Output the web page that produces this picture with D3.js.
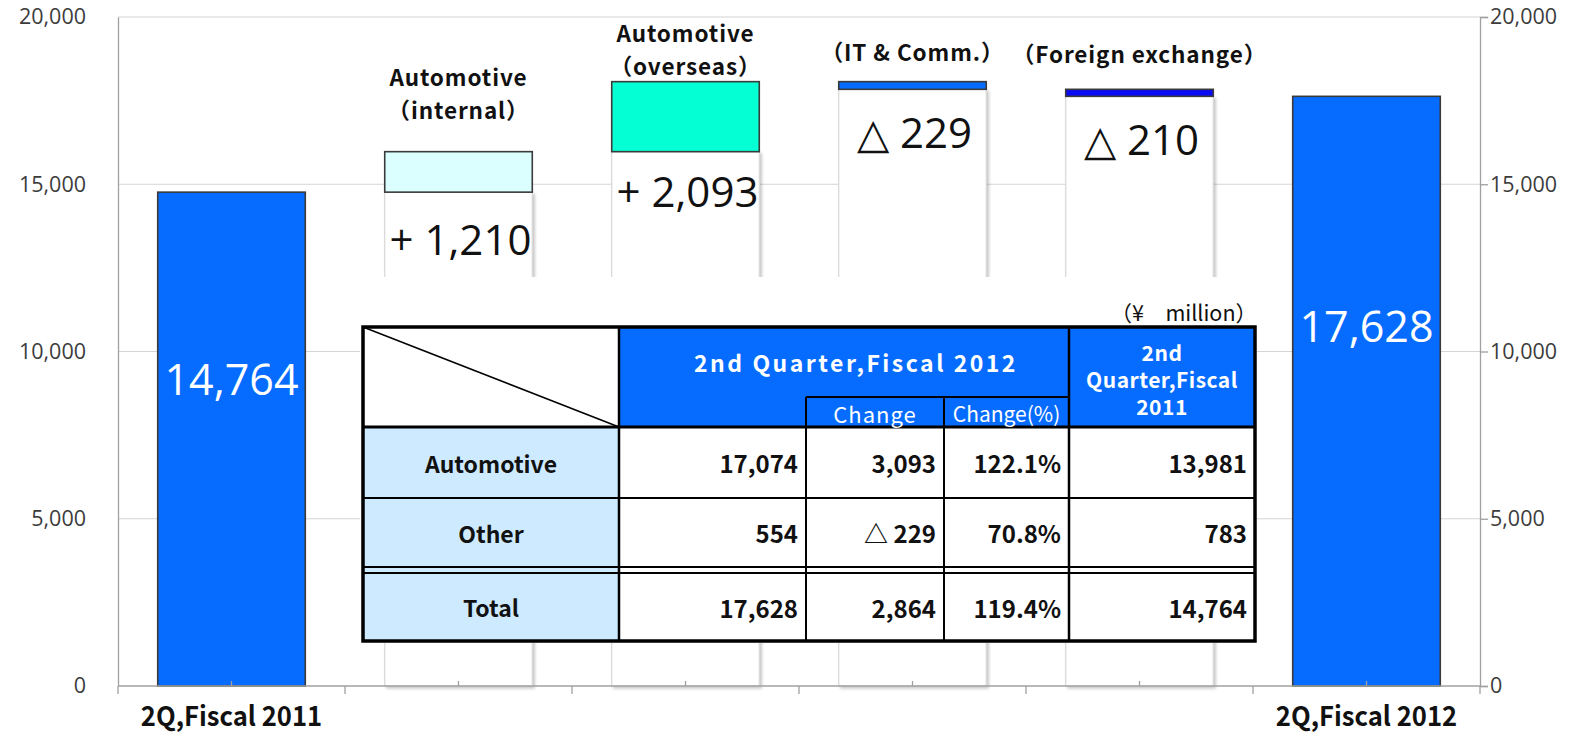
<!DOCTYPE html>
<html>
<head>
<meta charset="utf-8">
<script src="https://cdn.jsdelivr.net/npm/d3@7"></script>
<style>
  body { margin: 0; background: #fff; }
  svg { display: block; }
</style>
</head>
<body>
<svg id="chart" width="1591" height="734"></svg>
<script>
// chart values
const categories = ["2Q,Fiscal 2011", "Automotive (internal)", "Automotive (overseas)", "IT & Comm.", "Foreign exchange", "2Q,Fiscal 2012"];
const axisLabels = ["2Q,Fiscal 2011", "", "", "", "", "2Q,Fiscal 2012"];
const stepLabels = [[], ["Automotive", "（internal）"], ["Automotive", "（overseas）"], ["（IT & Comm.）"], ["（Foreign exchange）"], []];
const amounts = [14764, 1210, 2093, -229, -210, 17628];
const isTotal = [true, false, false, false, false, true];
const yTicks = [0, 5000, 10000, 15000, 20000];

// table values
const tableRows = ["Automotive", "Other", "Total"];
const q2fy2012 = [17074, 554, 17628];
const change = [3093, -229, 2864];
const changePct = [122.1, 70.8, 119.4];
const q2fy2011 = [13981, 783, 14764];
const unitLabel = "（¥　million）";

const fmt = d3.format(",");
const signed = v => v < 0 ? "△ " + fmt(-v) : "+ " + fmt(v);

// waterfall pieces
let running = 0;
const pieces = amounts.map((a, i) => {
  let lo, hi;
  if (isTotal[i]) { lo = 0; hi = a; running = a; }
  else { const prev = running; running += a; lo = Math.min(prev, running); hi = Math.max(prev, running); }
  return { idx: i, cat: categories[i], amount: a, lo: lo, hi: hi, total: isTotal[i] };
});

const fills = ["#066cff", "#dbffff", "#05ffd5", "#066cff", "#0a0af5", "#066cff"];

const svg = d3.select("#chart");
const defs = svg.append("defs");
defs.append("filter").attr("id", "shadow").attr("x", "-10%").attr("y", "-10%").attr("width", "130%").attr("height", "130%")
  .append("feDropShadow").attr("dx", 2).attr("dy", 2).attr("stdDeviation", 1.5)
  .attr("flood-color", "#000").attr("flood-opacity", 0.22);

const plotLeft = 118, plotRight = 1480, plotTop = 17, plotBottom = 686;

const x = d3.scaleBand().domain(categories).range([plotLeft, plotRight]).paddingInner(0.35).paddingOuter(0.175);
const y = d3.scaleLinear().domain([0, 20000]).range([plotBottom, plotTop]);

// gridlines
svg.append("g").selectAll("line").data(yTicks.filter(t => t > 0)).enter().append("line")
  .attr("x1", plotLeft).attr("x2", plotRight)
  .attr("y1", d => y(d)).attr("y2", d => y(d))
  .attr("stroke", "#d4d4d4").attr("stroke-width", 1.2);

// invisible base segments (white with light edges)
svg.append("g").selectAll("rect").data(pieces.filter(p => !p.total)).enter().append("rect")
  .attr("x", d => x(d.cat)).attr("width", x.bandwidth())
  .attr("y", d => y(d.lo)).attr("height", d => y(0) - y(d.lo))
  .attr("fill", "#fff").attr("stroke", "#d8d8d8").attr("stroke-width", 1.2)
  .attr("filter", "url(#shadow)");

// visible bars
svg.append("g").selectAll("rect").data(pieces).enter().append("rect")
  .attr("x", d => x(d.cat)).attr("width", x.bandwidth())
  .attr("y", d => y(d.hi)).attr("height", d => y(d.lo) - y(d.hi))
  .attr("fill", d => fills[d.idx])
  .attr("stroke", "#3a3a3a").attr("stroke-width", 1.6);

// axes
const tickFont = "'Open Sans', sans-serif";
const leftAxis = svg.append("g").attr("transform", `translate(${plotLeft},0)`)
  .call(d3.axisLeft(y).tickValues(yTicks).tickSize(0).tickPadding(32).tickFormat(fmt));
const rightAxis = svg.append("g").attr("transform", `translate(${plotRight},0)`)
  .call(d3.axisRight(y).tickValues(yTicks).tickSize(8).tickPadding(2).tickFormat(fmt));
[leftAxis, rightAxis].forEach(g => {
  g.select(".domain").attr("stroke", "#a0a0a0").attr("stroke-width", 1.3);
  g.selectAll(".tick line").attr("stroke", "#a0a0a0").attr("stroke-width", 1.3);
  g.selectAll(".tick text").attr("fill", "#3c3c3c").style("font-family", tickFont).style("font-size", "21.5px");
});

// category axis
const xAxis = svg.append("g");
xAxis.append("line").attr("x1", plotLeft).attr("x2", plotRight).attr("y1", plotBottom).attr("y2", plotBottom)
  .attr("stroke", "#a0a0a0").attr("stroke-width", 1.3);
xAxis.selectAll("line.bound").data(d3.range(categories.length + 1)).enter().append("line")
  .attr("class", "bound")
  .attr("x1", i => plotLeft + i * x.step()).attr("x2", i => plotLeft + i * x.step())
  .attr("y1", plotBottom).attr("y2", plotBottom + 8)
  .attr("stroke", "#a0a0a0").attr("stroke-width", 1.3);
xAxis.selectAll("line.mid").data(categories).enter().append("line")
  .attr("class", "mid")
  .attr("x1", d => x(d) + x.bandwidth() / 2).attr("x2", d => x(d) + x.bandwidth() / 2)
  .attr("y1", plotBottom).attr("y2", plotBottom - 5)
  .attr("stroke", "#a0a0a0").attr("stroke-width", 1.3);
xAxis.selectAll("text").data(categories).enter().append("text")
  .attr("transform", d => `translate(${x(d) + x.bandwidth() / 2},726) scale(0.95,1)`)
  .attr("text-anchor", "middle")
  .style("font-family", "'Noto Sans CJK JP', sans-serif").style("font-weight", 700).style("font-size", "27px")
  .attr("fill", "#111")
  .text((d, i) => axisLabels[i]);

// labels above the step bars
const lift = [0, 33, 7, 21, 26, 0];
const labelFont = "'Noto Sans CJK JP', sans-serif";
pieces.forEach((p, i) => {
  const lines = stepLabels[i];
  if (!lines.length) return;
  const cx = x(p.cat) + x.bandwidth() / 2;
  const base = y(p.hi) - lift[i];
  lines.forEach((s, k) => {
    svg.append("text")
      .attr("x", cx).attr("y", base - (lines.length - 1 - k) * 33)
      .attr("text-anchor", "middle")
      .style("font-family", labelFont).style("font-weight", 700).style("font-size", "22.5px")
      .style("letter-spacing", "0.9px")
      .attr("fill", "#111").text(s);
  });
});

// value labels
const valueFont = "'Open Sans', sans-serif";
const drop = [0, 63, 55, 59, 59, 0];
svg.append("g").selectAll("text").data(pieces.filter(p => !p.total)).enter().append("text")
  .attr("x", d => x(d.cat) + x.bandwidth() / 2 + 2)
  .attr("y", d => y(d.lo) + drop[d.idx])
  .attr("text-anchor", "middle")
  .style("font-family", valueFont).style("font-size", "42px")
  .attr("fill", "#111")
  .text(d => signed(d.amount));

const totalDrop = [203, 0, 0, 0, 0, 246];
svg.append("g").selectAll("text").data(pieces.filter(p => p.total)).enter().append("text")
  .attr("x", d => x(d.cat) + x.bandwidth() / 2)
  .attr("y", d => y(d.hi) + totalDrop[d.idx])
  .attr("text-anchor", "middle")
  .style("font-family", valueFont).style("font-size", "43px")
  .attr("fill", "#fff")
  .text(d => fmt(d.amount));

// ---------- summary table ----------
const T = { x0: 363, x1: 619, x2: 806, x3: 944, x4: 1069, x5: 1255, y0: 327, ySub: 397, y1: 427, y2: 498, y3a: 567, y3b: 573, y4: 641 };
const tbl = svg.append("g");
tbl.append("rect").attr("x", 360).attr("y", 277).attr("width", 897).attr("height", T.y4 - 277 + 2).attr("fill", "#fff");

tbl.append("text").attr("x", T.x5 + 2).attr("y", 321).attr("text-anchor", "end")
  .style("font-family", labelFont).style("font-size", "21.5px").attr("fill", "#111").text(unitLabel);

tbl.append("rect").attr("x", T.x0).attr("y", T.y0).attr("width", T.x5 - T.x0).attr("height", T.y4 - T.y0).attr("fill", "#fff");
tbl.append("rect").attr("x", T.x1).attr("y", T.y0).attr("width", T.x5 - T.x1).attr("height", T.y1 - T.y0).attr("fill", "#066cff");
tbl.append("rect").attr("x", T.x0).attr("y", T.y1).attr("width", T.x1 - T.x0).attr("height", T.y4 - T.y1).attr("fill", "#cdeaff");

const rowTop = [T.y1, T.y2, T.y3b];
const rowBot = [T.y2, T.y3a, T.y4];
const rowMid = rowTop.map((t, i) => (t + rowBot[i]) / 2);

function line(x1, y1, x2, y2, w) {
  tbl.append("line").attr("x1", x1).attr("y1", y1).attr("x2", x2).attr("y2", y2)
    .attr("stroke", "#000").attr("stroke-width", w);
}
line(T.x0, T.y0, T.x1, T.y1, 1.5);
line(T.x1, T.y0, T.x1, T.y4, 2.5);
line(T.x4, T.y0, T.x4, T.y4, 2.5);
line(T.x2, T.ySub, T.x2, T.y4, 2);
line(T.x3, T.ySub, T.x3, T.y4, 2);
line(T.x2, T.ySub, T.x4, T.ySub, 2);
line(T.x0, T.y1, T.x5, T.y1, 3);
line(T.x0, T.y2, T.x5, T.y2, 2);
line(T.x0, T.y3a, T.x5, T.y3a, 2);
line(T.x0, T.y3b, T.x5, T.y3b, 2);
tbl.append("rect").attr("x", T.x0).attr("y", T.y0).attr("width", T.x5 - T.x0).attr("height", T.y4 - T.y0)
  .attr("fill", "none").attr("stroke", "#000").attr("stroke-width", 3.5);

function txt(xp, yp, s, anchor, weight, size, color, spacing) {
  return tbl.append("text").attr("x", xp).attr("y", yp).attr("text-anchor", anchor).attr("dominant-baseline", "central")
    .style("font-family", labelFont).style("font-weight", weight).style("font-size", size + "px")
    .style("letter-spacing", (spacing || 0) + "px")
    .attr("fill", color).text(s);
}
txt((T.x1 + T.x4) / 2 + 12, 362, "2nd Quarter,Fiscal 2012", "middle", 700, 23, "#fff", 2.5);
txt((T.x2 + T.x3) / 2, 413, "Change", "middle", 400, 22, "#fff", 1);
txt((T.x3 + T.x4) / 2, 413, "Change(%)", "middle", 400, 21, "#fff");
["2nd", "Quarter,Fiscal", "2011"].forEach((s, k) =>
  txt((T.x4 + T.x5) / 2, 352 + k * 27, s, "middle", 700, 21, "#fff", 0.5));

tableRows.forEach((r, i) => {
  const cy = rowMid[i];
  txt((T.x0 + T.x1) / 2, cy, r, "middle", 700, 23, "#111");
  txt(T.x2 - 8, cy, fmt(q2fy2012[i]), "end", 700, 24, "#111");
  txt(T.x3 - 8, cy, change[i] < 0 ? "△ " + fmt(-change[i]) : fmt(change[i]), "end", 700, 24, "#111");
  txt(T.x4 - 8, cy, d3.format(".1f")(changePct[i]) + "%", "end", 700, 24, "#111");
  txt(T.x5 - 8, cy, fmt(q2fy2011[i]), "end", 700, 24, "#111");
});
</script>
</body>
</html>
